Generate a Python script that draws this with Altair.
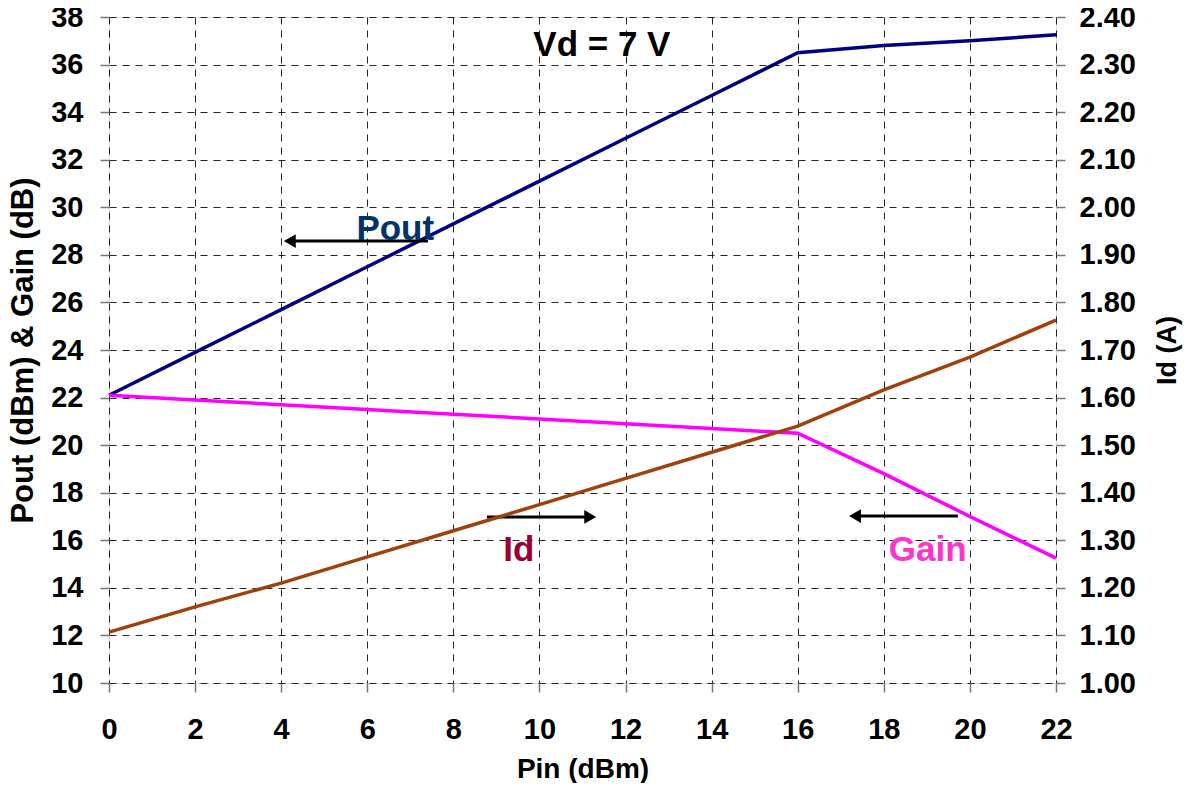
import altair as alt
import pandas as pd

pin = [0, 2, 4, 6, 8, 10, 12, 14, 16, 18, 20, 22]
pout = [22.1, 23.9, 25.7, 27.5, 29.3, 31.1, 32.9, 34.7, 36.5, 36.8, 37.0, 37.25]
gain = [22.1, 21.9, 21.7, 21.5, 21.3, 21.1, 20.9, 20.7, 20.5, 18.8, 17.0, 15.25]
idd = [1.107, 1.16, 1.21, 1.265, 1.32, 1.375, 1.43, 1.485, 1.54, 1.616, 1.685, 1.763]

# annotations (data coordinates)
lab_text = ["Pout", "Id", "Gain", "Vd = 7 V"]
lab_x = [6.65, 9.52, 19.02, 11.45]
lab_y = [29.1, 15.6, 15.6, 36.82]
lab_color = ["#003366", "#990033", "#FF33CC", "#000000"]
arr_tail = [7.41, 8.78, 19.72]
arr_tip = [4.04, 11.34, 17.17]
arr_head = [4.2, 11.18, 17.33]
arr_y = [28.58, 16.98, 17.02]
arr_shape = ["triangle-left", "triangle-right", "triangle-left"]

FONT = "Liberation Sans"

df = pd.DataFrame({"pin": pin, "pout": pout, "gain": gain, "id": idd})
lab = pd.DataFrame({"t": lab_text, "x": lab_x, "y": lab_y, "c": lab_color})
arr = pd.DataFrame({"x1": arr_tail, "x2": arr_tip, "xh": arr_head, "y": arr_y, "s": arr_shape})

xs = alt.Scale(domain=[0, 22], nice=False, zero=False)
ys = alt.Scale(domain=[10, 38], nice=False, zero=False)
rs = alt.Scale(domain=[1.0, 2.4], nice=False, zero=False)

common = dict(labelFont=FONT, labelFontSize=29, labelFontWeight="bold", labelColor="black",
              labelFlush=False, labelOverlap=False, labelBound=False,
              tickSize=9, tickColor="#777", tickWidth=1.5, domain=False,
              titleFont=FONT, titleFontWeight="bold", titleColor="black")
gridopts = dict(grid=True, gridColor="black", gridDash=[7, 6], gridWidth=1, gridOpacity=0.85)

xaxis = alt.Axis(values=list(range(0, 23, 2)), title="Pin (dBm)", labelPadding=23,
                 titleFontSize=28, titlePadding=11, **gridopts, **common)
yaxis = alt.Axis(values=list(range(10, 39, 2)), title="Pout (dBm) & Gain (dB)",
                 labelPadding=17, titleFontSize=31, titleBaseline="alphabetic",
                 titlePadding=18, **gridopts, **common)
raxis = alt.Axis(values=[round(1.0 + 0.1 * i, 2) for i in range(15)], title="Id  (A)",
                 orient="right", format=".2f", grid=False, labelPadding=14,
                 titleFontSize=27, titleAngle=270, titleBaseline="alphabetic",
                 titlePadding=40, **common)

base = alt.Chart(df)
l_pout = base.mark_line(color="#000080", strokeWidth=3.5).encode(
    x=alt.X("pin:Q", scale=xs, axis=xaxis), y=alt.Y("pout:Q", scale=ys, axis=yaxis))
l_gain = base.mark_line(color="#FF00FF", strokeWidth=3.5).encode(
    x=alt.X("pin:Q", scale=xs), y=alt.Y("gain:Q", scale=ys))
left = alt.layer(l_pout, l_gain)

l_id = base.mark_line(color="#A0400A", strokeWidth=3.5).encode(
    x=alt.X("pin:Q", scale=xs), y=alt.Y("id:Q", scale=rs, axis=raxis))

arrows = alt.Chart(arr).mark_rule(color="black", strokeWidth=3).encode(
    x=alt.X("x1:Q", scale=xs), x2="xh:Q", y=alt.Y("y:Q", scale=ys))
heads = alt.Chart(arr).mark_point(filled=True, color="black", size=190, opacity=1).encode(
    x=alt.X("xh:Q", scale=xs), y=alt.Y("y:Q", scale=ys),
    shape=alt.Shape("s:N", scale=None))
texts = alt.Chart(lab).mark_text(font=FONT, fontSize=35, fontWeight="bold").encode(
    x=alt.X("x:Q", scale=xs), y=alt.Y("y:Q", scale=ys),
    text="t:N", color=alt.Color("c:N", scale=None))

left_all = alt.layer(left, arrows, heads, texts)

chart = alt.layer(left_all, l_id).resolve_scale(y="independent").properties(
    width=947, height=666,
    autosize=alt.AutoSizeParams(type="none"),
    padding={"left": 101, "top": 9, "right": 128, "bottom": 100},
).configure_view(stroke="black", strokeWidth=3.5).configure(background="white")

chart.save("out.html", embed_options={"renderer": "svg", "actions": False})
